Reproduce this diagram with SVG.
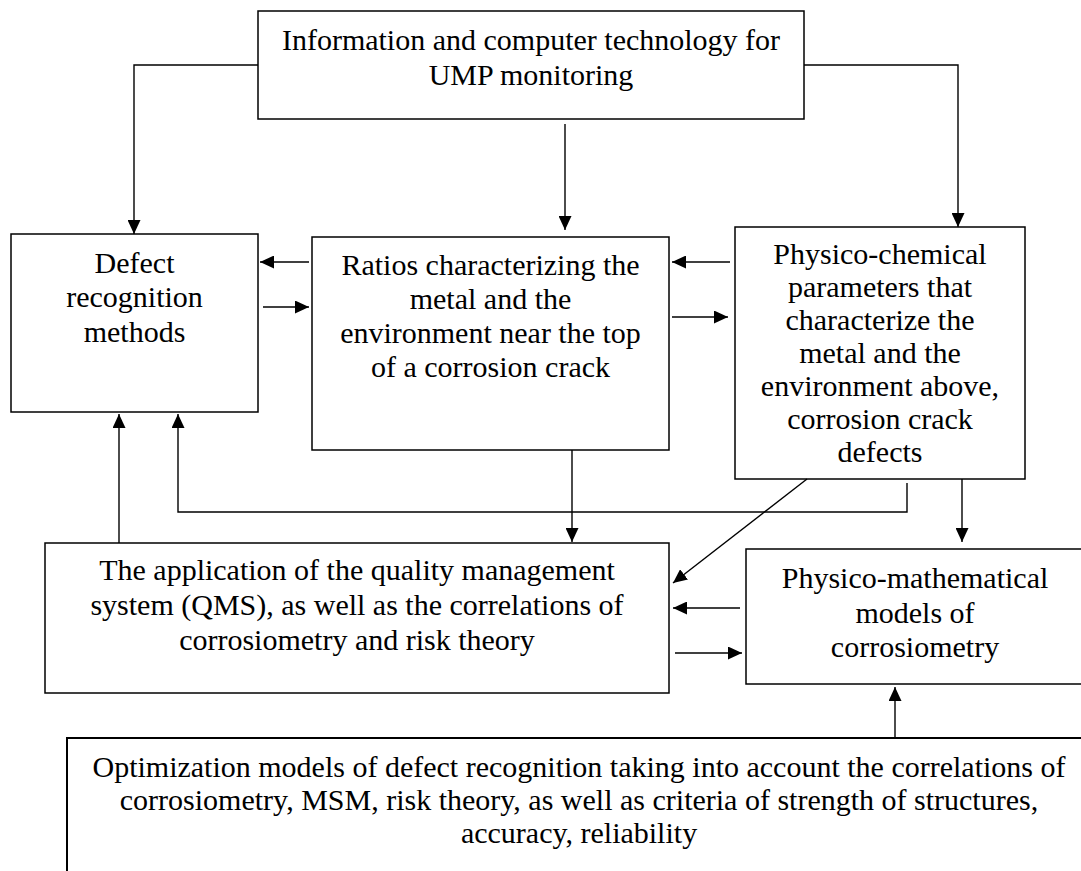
<svg xmlns="http://www.w3.org/2000/svg" width="1081" height="871" viewBox="0 0 1081 871">
<style>
.box{fill:#fff;stroke:#000;stroke-width:1.5}
.t{font-family:"Liberation Serif","Times New Roman",serif;font-size:30px;fill:#000;text-anchor:middle}
.c{fill:none;stroke:#000;stroke-width:1.4}
</style>
<defs>
<marker id="ah" markerUnits="userSpaceOnUse" markerWidth="14" markerHeight="13" refX="14" refY="6.5" orient="auto">
<path d="M0,0 L14,6.5 L0,13 z" fill="#000"/>
</marker>
</defs>
<rect width="1081" height="871" fill="#fff"/>
<g id="top">
<rect class="box" x="258" y="11" width="546" height="108"/>
<text class="t" x="531" y="50">Information and computer technology for</text>
<text class="t" x="531" y="85">UMP monitoring</text>
</g>
<g id="defect">
<rect class="box" x="11" y="234" width="247" height="178"/>
<text class="t" x="134.5" y="273">Defect</text>
<text class="t" x="134.5" y="307">recognition</text>
<text class="t" x="134.5" y="342">methods</text>
</g>
<g id="ratios">
<rect class="box" x="312" y="237" width="357" height="213"/>
<text class="t" x="490.5" y="275">Ratios characterizing the</text>
<text class="t" x="490.5" y="309">metal and the</text>
<text class="t" x="490.5" y="343">environment near the top</text>
<text class="t" x="490.5" y="377">of a corrosion crack</text>
</g>
<g id="physchem">
<rect class="box" x="735" y="227" width="290" height="252"/>
<text class="t" x="880" y="264">Physico-chemical</text>
<text class="t" x="880" y="297">parameters that</text>
<text class="t" x="880" y="330">characterize the</text>
<text class="t" x="880" y="363">metal and the</text>
<text class="t" x="880" y="396">environment above,</text>
<text class="t" x="880" y="429">corrosion crack</text>
<text class="t" x="880" y="462">defects</text>
</g>
<g id="qms">
<rect class="box" x="45" y="543" width="624" height="150"/>
<text class="t" x="357" y="580">The application of the quality management</text>
<text class="t" x="357" y="615">system (QMS), as well as the correlations of</text>
<text class="t" x="357" y="650">corrosiometry and risk theory</text>
</g>
<g id="physmath">
<rect class="box" x="746" y="549" width="340" height="135"/>
<text class="t" x="915" y="588">Physico-mathematical</text>
<text class="t" x="915" y="623">models of</text>
<text class="t" x="915" y="657">corrosiometry</text>
</g>
<g id="optim">
<rect class="box" x="67" y="738" width="1030" height="150" style="stroke-width:2"/>
<text class="t" x="579" y="777">Optimization models of defect recognition taking into account the correlations of</text>
<text class="t" x="579" y="810">corrosiometry, MSM, risk theory, as well as criteria of strength of structures,</text>
<text class="t" x="579" y="843">accuracy, reliability</text>
</g>
<g id="connectors">
<path class="c" d="M258,65 H134 V234" marker-end="url(#ah)"/>
<path class="c" d="M565,124 V230" marker-end="url(#ah)"/>
<path class="c" d="M804,65 H958 V227" marker-end="url(#ah)"/>
<path class="c" d="M309,262 H260" marker-end="url(#ah)"/>
<path class="c" d="M263,307 H309" marker-end="url(#ah)"/>
<path class="c" d="M730,262 H672" marker-end="url(#ah)"/>
<path class="c" d="M672,317 H728" marker-end="url(#ah)"/>
<path class="c" d="M572,450 V542" marker-end="url(#ah)"/>
<path class="c" d="M807,479 L673,583" marker-end="url(#ah)"/>
<path class="c" d="M907,483 V512 H178 V414" marker-end="url(#ah)"/>
<path class="c" d="M119,543 V414" marker-end="url(#ah)"/>
<path class="c" d="M962,479 V542" marker-end="url(#ah)"/>
<path class="c" d="M740,608 H673" marker-end="url(#ah)"/>
<path class="c" d="M675,653 H742" marker-end="url(#ah)"/>
<path class="c" d="M895,738 V687" marker-end="url(#ah)"/>
</g>
</svg>
